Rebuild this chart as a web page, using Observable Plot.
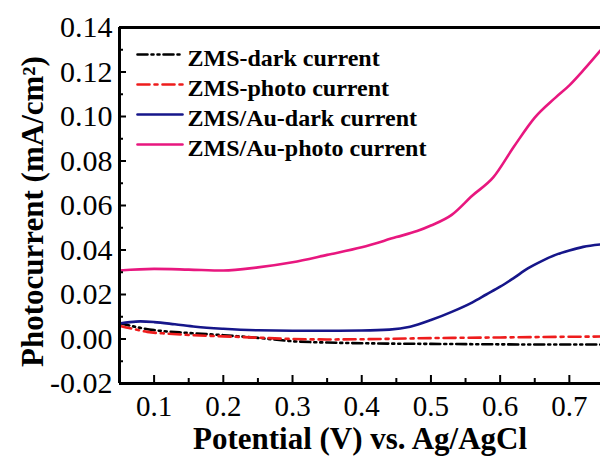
<!DOCTYPE html>
<html>
<head>
<meta charset="utf-8">
<script src="https://cdn.jsdelivr.net/npm/d3@7"></script>
<script src="https://cdn.jsdelivr.net/npm/@observablehq/plot@0.6"></script>
<style>
  html, body { margin: 0; padding: 0; background: #fff; }
  #chart { width: 600px; height: 456px; overflow: hidden; }
</style>
</head>
<body>
<div id="chart"></div>
<script>
// ---- data ----
const seriesNames = ["ZMS-dark current", "ZMS-photo current", "ZMS/Au-dark current", "ZMS/Au-photo current"];

const vDark = [0.05, 0.08, 0.10, 0.15, 0.20, 0.25, 0.30, 0.35, 0.40, 0.45, 0.50, 0.60, 0.70, 0.745];
const iDark = [0.0072, 0.0050, 0.0040, 0.0027, 0.0017, 0.0005, -0.0010, -0.0016, -0.0019, -0.0021, -0.0022, -0.0024, -0.0025, -0.0025];

const vPhoto = [0.05, 0.07, 0.09, 0.12, 0.15, 0.20, 0.25, 0.30, 0.35, 0.40, 0.50, 0.60, 0.70, 0.745];
const iPhoto = [0.0060, 0.0045, 0.0032, 0.0024, 0.0018, 0.0012, 0.0006, 0.0000, -0.0002, -0.0001, 0.0004, 0.0007, 0.0010, 0.0011];

const vAuDark = [0.05, 0.065, 0.08, 0.10, 0.13, 0.16, 0.20, 0.25, 0.30, 0.35, 0.40, 0.44, 0.47, 0.50, 0.53, 0.56, 0.58, 0.60, 0.62, 0.64, 0.66, 0.68, 0.70, 0.72, 0.745];
const iAuDark = [0.0070, 0.0076, 0.0079, 0.0076, 0.0066, 0.0055, 0.0046, 0.0039, 0.0037, 0.0037, 0.0038, 0.0042, 0.0055, 0.0085, 0.0122, 0.0165, 0.0200, 0.0235, 0.0275, 0.0317, 0.0350, 0.0378, 0.0398, 0.0414, 0.0425];

const vAuPhoto = [0.05, 0.10, 0.15, 0.20, 0.25, 0.30, 0.35, 0.40, 0.45, 0.48, 0.50, 0.53, 0.56, 0.59, 0.62, 0.65, 0.68, 0.70, 0.72, 0.745];
const iAuPhoto = [0.0308, 0.0315, 0.0312, 0.0308, 0.0322, 0.0345, 0.0378, 0.0412, 0.0458, 0.0485, 0.0510, 0.0558, 0.0645, 0.0726, 0.0865, 0.0995, 0.1085, 0.1140, 0.1207, 0.1297];

const xMajor = [0.1, 0.2, 0.3, 0.4, 0.5, 0.6, 0.7];
const xMinor = [0.15, 0.25, 0.35, 0.45, 0.55, 0.65];
const yMajor = [-0.02, 0.00, 0.02, 0.04, 0.06, 0.08, 0.10, 0.12, 0.14];
const yMinor = [-0.01, 0.01, 0.03, 0.05, 0.07, 0.09, 0.11, 0.13];

const xLabel = "Potential (V) vs. Ag/AgCl";
const yLabel = "Photocurrent (mA/cm²)";

// ---- styles ----
const colors = ["#000000", "#ee1c1c", "#16168a", "#e8177f"];
const dashes = ["10,4,2,4,2,4", "12,5,3,5", null, null];
const serif = "'Liberation Serif', 'Times New Roman', serif";

const W = 600, H = 456, mL = 119, mR = 0, mT = 27, mB = 73;
const frameW = W - mL - mR, frameH = H - mT - mB;

const sets = [[vDark, iDark], [vPhoto, iPhoto], [vAuDark, iAuDark], [vAuPhoto, iAuPhoto]];
const table = [];
sets.forEach(([vs, is], k) => vs.forEach((v, j) => table.push({series: seriesNames[k], v, i: is[j]})));

const lineMarks = seriesNames.map((name, k) =>
  Plot.line(table.filter(d => d.series === name), {
    x: "v", y: "i", stroke: colors[k], strokeWidth: 2.6,
    strokeDasharray: dashes[k] ?? undefined, curve: "monotone-x"
  })
);

const seg = {draw(context, l) { context.moveTo(0, 0); context.lineTo(0, -l); }};
const legendSwatches = seriesNames.map((name, k) =>
  Plot.vector([name], {
    frameAnchor: "top-left", dx: 18, dy: 27 + 30 * k, length: 45, rotate: 90,
    anchor: "start", shape: seg, stroke: colors[k], strokeWidth: 2.6,
    strokeDasharray: dashes[k] ?? undefined
  })
);

const chart = Plot.plot({
  width: W, height: H,
  marginLeft: mL, marginRight: mR, marginTop: mT, marginBottom: mB,
  style: {fontFamily: serif, background: "#fff", color: "#000"},
  x: {domain: [0.05, 0.745]},
  y: {domain: [-0.02, 0.14]},
  marks: [
    ...lineMarks,
    // inward ticks
    Plot.tickX(xMajor, {x: d => d, insetTop: frameH - 8, strokeWidth: 2}),
    Plot.tickX(xMinor, {x: d => d, insetTop: frameH - 5, strokeWidth: 2}),
    Plot.tickY(yMajor, {y: d => d, insetRight: frameW - 7, strokeWidth: 2}),
    Plot.tickY(yMinor, {y: d => d, insetRight: frameW - 4, strokeWidth: 2}),
    // tick labels
    Plot.axisX({ticks: xMajor, tickSize: 0, tickPadding: 12, tickFormat: d => d.toFixed(1),
      fontSize: 29, fontFamily: serif, label: null}),
    Plot.axisY({ticks: yMajor, tickSize: 0, tickPadding: 7, tickFormat: d => d.toFixed(2),
      fontSize: 30, fontFamily: serif, label: null}),
    // frame lines
    Plot.ruleX([0.05], {strokeWidth: 3}),
    Plot.ruleY([-0.02], {strokeWidth: 3}),
    Plot.ruleY([0.14], {strokeWidth: 3}),
    // axis titles
    Plot.text([xLabel], {text: d => d, frameAnchor: "bottom", dy: 65, lineAnchor: "bottom",
      fontSize: 31, fontWeight: "bold", fontFamily: serif}),
    Plot.text([yLabel], {text: d => d, frameAnchor: "left", dx: -77, dy: 6, rotate: -90,
      lineAnchor: "bottom", textAnchor: "middle", fontSize: 31, fontWeight: "bold", fontFamily: serif}),
    // legend
    ...legendSwatches,
    Plot.text([seriesNames.join("\n")], {text: d => d, frameAnchor: "top-left", dx: 68, dy: 17,
      lineAnchor: "top", textAnchor: "start", lineHeight: 1.25, fontSize: 24, fontWeight: "bold", fontFamily: serif})
  ]
});
document.getElementById("chart").appendChild(chart);
</script>
</body>
</html>
